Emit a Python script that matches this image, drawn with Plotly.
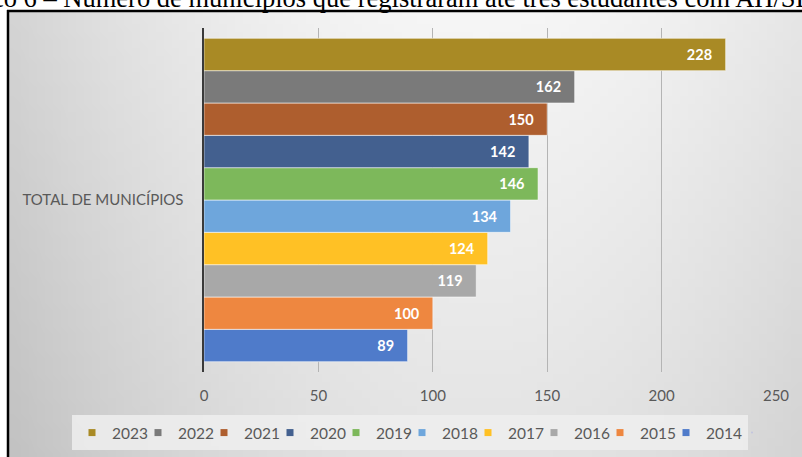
import base64, struct, zlib
import numpy as np
import plotly.graph_objects as go

# ---------------- data ----------------
categories = ["TOTAL DE MUNICÍPIOS"]
years = ["2014", "2015", "2016", "2017", "2018", "2019", "2020", "2021", "2022", "2023"]
values = [89, 100, 119, 124, 134, 146, 142, 150, 162, 228]
colors = ["#4F7BCA", "#EE8740", "#A8A8A8", "#FFC125", "#6EA6DC",
          "#7DB85B", "#43608F", "#AE5E2E", "#7A7A7A", "#A98A25"]
x_ticks = [0, 50, 100, 150, 200, 250]
caption = "Gráfico 6 – Número de municípios que registraram até três estudantes com AH/SD"

W, H = 802, 457
L, R, T, B = 204, 26, 28, 85
PW, PH = W - L - R, H - T - B


def px2paper_x(px):
    return (px - L) / PW


def px2paper_y(py):
    return 1 - (py - T) / PH


# ---------------- background gradient image ----------------
def make_png(arr):
    h, w, _ = arr.shape
    raw = b"".join(b"\x00" + arr[i].tobytes() for i in range(h))

    def chunk(tag, data):
        c = struct.pack(">I", len(data)) + tag + data
        return c + struct.pack(">I", zlib.crc32(tag + data) & 0xFFFFFFFF)

    png = b"\x89PNG\r\n\x1a\n"
    png += chunk(b"IHDR", struct.pack(">IIBBBBB", w, h, 8, 2, 0, 0, 0))
    png += chunk(b"IDAT", zlib.compress(raw, 9))
    png += chunk(b"IEND", b"")
    return "data:image/png;base64," + base64.b64encode(png).decode()


gx0, gx1, gy0, gy1 = 9, 802, 12, 457
gw, gh = 100, 56
xs = np.linspace(gx0, gx1, gw)
ys = np.linspace(gy0, gy1, gh)
XX, YY = np.meshgrid(xs, ys)
val = 246 - 28 * ((XX - 480) / 430) ** 2 - 18 * (YY - gy0) / (gy1 - gy0)
val = np.clip(val, 0, 255).astype(np.uint8)
img = np.stack([val, val, val], axis=-1)
bg_src = make_png(img)

# ---------------- figure ----------------
fig = go.Figure()

for yr, v, c in zip(years, values, colors):
    fig.add_trace(go.Bar(
        y=categories, x=[v], orientation="h", name=yr,
        marker=dict(color=c, line=dict(color="rgba(255,255,255,0.55)", width=1)),
        text=[str(v)],
        texttemplate="%{text}\u00a0\u00a0\u00a0",
        textposition="inside", insidetextanchor="end",
        insidetextfont=dict(family="Lato", size=14.5, color="white", weight="bold"),
        showlegend=False, hoverinfo="skip",
    ))

# legend entries (2023 first)
for yr, c in zip(reversed(years), reversed(colors)):
    fig.add_trace(go.Scatter(
        x=[None], y=[None], mode="markers", name=yr,
        marker=dict(symbol="square", size=7, color=c),
        showlegend=True, hoverinfo="skip",
    ))
# invisible spacer entry so the last legend label is not clipped
fig.add_trace(go.Scatter(
    x=[None], y=[None], mode="markers", name="\u00a0",
    marker=dict(size=1, opacity=0), showlegend=True, hoverinfo="skip",
))

fig.update_layout(
    width=W, height=H,
    margin=dict(l=L, r=R, t=T, b=B, autoexpand=False),
    paper_bgcolor="white",
    plot_bgcolor="rgba(0,0,0,0)",
    barmode="group", bargap=0.06, bargroupgap=0,
    font=dict(family="Lato", color="#595959", size=13),
    xaxis=dict(
        range=[0, 250], tickvals=x_ticks, showgrid=True, gridcolor="#B4B4B4",
        gridwidth=1, zeroline=False, showline=False, ticks="",
        ticklabelstandoff=13, tickfont=dict(family="Lato", size=15, color="#595959"),
        fixedrange=True,
    ),
    yaxis=dict(
        range=[-0.5, 0.5], showgrid=False, zeroline=False, showline=True,
        linecolor="#3A3A3A", linewidth=2.5, ticks="", ticklabelstandoff=15,
        tickfont=dict(family="Lato", size=15, color="#595959"),
        fixedrange=True,
    ),
    legend=dict(
        orientation="h", xref="paper", yref="paper",
        x=px2paper_x(72), xanchor="left", y=px2paper_y(416), yanchor="top",
        bgcolor="rgba(0,0,0,0)", borderwidth=0,
        font=dict(family="Lato", size=15.5, color="#595959"),
        entrywidth=21, entrywidthmode="pixels",
        itemclick=False, itemdoubleclick=False,
    ),
    images=[dict(
        source=bg_src, xref="paper", yref="paper",
        x=px2paper_x(gx0), y=px2paper_y(gy0),
        sizex=(gx1 - gx0) / PW, sizey=(gy1 - gy0) / PH,
        sizing="stretch", xanchor="left", yanchor="top", layer="below",
    )],
    shapes=[
        # legend background box
        dict(type="rect", xref="paper", yref="paper", layer="below",
             x0=px2paper_x(72), x1=px2paper_x(748), y0=px2paper_y(415), y1=px2paper_y(450),
             fillcolor="rgba(238,238,238,0.85)", line=dict(width=0)),
        # frame
        dict(type="line", xref="paper", yref="paper",
             x0=px2paper_x(7), x1=px2paper_x(810), y0=px2paper_y(11), y1=px2paper_y(11),
             line=dict(color="black", width=2.5)),
        dict(type="line", xref="paper", yref="paper",
             x0=px2paper_x(8), x1=px2paper_x(8), y0=px2paper_y(10), y1=px2paper_y(470),
             line=dict(color="black", width=2.5)),
    ],
    annotations=[dict(
        text=caption, xref="paper", yref="paper",
        x=px2paper_x(-66), y=px2paper_y(-1.5), xanchor="left", yanchor="middle",
        showarrow=False, font=dict(family="Liberation Serif", size=26.5, color="black"),
    )],
)

fig.write_html(
    "out.html",
    config=dict(displayModeBar=False, staticPlot=True),
    post_script="document.body.style.margin='0';document.body.style.overflow='hidden';",
)
